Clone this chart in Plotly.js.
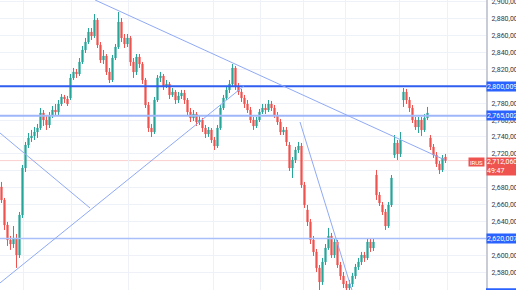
<!DOCTYPE html>
<html>
<head>
<meta charset="utf-8">
<script src="https://cdn.plot.ly/plotly-3.0.1.min.js"></script>
<style>
html,body{margin:0;padding:0;background:#fff;}
#chart{width:516px;height:290px;}
</style>
</head>
<body>
<div id="chart"></div>
<script>
// Prices in thousands
const openK = [2680.9,2665.5,2635.9,2618.2,2613.4,2620.5,2600.4,2647.7,2703.3,2730.5,
2738.8,2741.2,2745.9,2750.6,2768.4,2760.1,2754.2,2764.8,2771.9,2769.5,
2779.0,2787.3,2784.9,2786.1,2809.8,2816.9,2814.5,2828.7,2842.9,2852.3,
2864.2,2859.4,2878.3,2848.8,2831.0,2835.8,2816.9,2807.4,2833.4,2846.4,
2876.0,2857.1,2850.0,2857.1,2828.7,2816.9,2834.6,2826.3,2807.4,2777.8,
2750.6,2745.9,2783.7,2809.8,2812.1,2800.3,2802.7,2789.7,2793.2,2783.7,
2788.5,2792.0,2783.7,2769.5,2762.5,2767.2,2757.7,2760.1,2750.6,2743.5,
2748.3,2736.4,2729.3,2750.6,2774.3,2786.1,2795.6,2802.7,2821.6,2800.3,
2793.2,2786.1,2779.0,2771.9,2760.1,2753.0,2760.1,2769.5,2774.3,2771.9,
2779.0,2774.3,2766.0,2757.7,2745.9,2748.3,2730.5,2703.3,2712.8,2724.6,
2729.3,2683.2,2653.7,2639.5,2618.2,2604.0,2585.1,2568.5,2592.2,2608.7,
2622.9,2600.4,2615.8,2588.6,2575.6,2566.1,2561.4,2566.1,2575.6,2586.2,
2592.2,2600.4,2596.9,2615.8,2608.7,2695.0,2671.4,2659.6,2651.3,2634.7,
2659.6,2718.7,2732.9,2719.9,2783.7,2793.2,2783.7,2774.3,2760.1,2751.8,
2760.1,2748.3,2762.5,2738.8,2728.2,2718.7,2708.1,2701.0,2716.3];

const closeK = [2665.5,2635.9,2618.2,2613.4,2620.5,2600.4,2647.7,2703.3,2730.5,2738.8,
2741.2,2745.9,2750.6,2768.4,2760.1,2754.2,2764.8,2771.9,2769.5,2779.0,
2787.3,2784.9,2779.0,2809.8,2816.9,2814.5,2828.7,2842.9,2852.3,2864.2,
2859.4,2878.3,2848.8,2831.0,2835.8,2816.9,2807.4,2833.4,2846.4,2876.0,
2857.1,2850.0,2857.1,2828.7,2816.9,2834.6,2826.3,2807.4,2777.8,2750.6,
2745.9,2783.7,2809.8,2812.1,2800.3,2802.7,2789.7,2793.2,2783.7,2788.5,
2792.0,2783.7,2769.5,2762.5,2767.2,2757.7,2760.1,2750.6,2743.5,2748.3,
2736.4,2729.3,2750.6,2774.3,2786.1,2795.6,2802.7,2821.6,2800.3,2793.2,
2786.1,2779.0,2771.9,2760.1,2753.0,2760.1,2769.5,2774.3,2771.9,2779.0,
2774.3,2766.0,2757.7,2745.9,2748.3,2734.1,2703.3,2712.8,2724.6,2729.3,
2683.2,2659.6,2639.5,2618.2,2604.0,2585.1,2568.5,2592.2,2608.7,2622.9,
2600.4,2615.8,2588.6,2575.6,2566.1,2561.4,2566.1,2575.6,2586.2,2592.2,
2600.4,2596.9,2615.8,2608.7,2615.8,2671.4,2661.9,2651.3,2634.7,2659.6,
2691.5,2732.9,2719.9,2736.4,2793.2,2783.7,2774.3,2760.1,2751.8,2760.1,
2748.3,2762.5,2768.4,2728.2,2718.7,2708.1,2701.0,2715.2,2712.06];

const highK = [2686.8,2667.9,2639.5,2622.9,2634.7,2625.3,2651.3,2706.9,2734.1,2744.7,
2748.3,2751.8,2755.4,2774.3,2771.9,2764.8,2769.5,2776.6,2779.0,2783.7,
2790.8,2789.7,2788.5,2814.5,2821.6,2820.4,2833.4,2847.6,2857.1,2868.9,
2868.9,2885.4,2880.7,2852.3,2842.9,2838.1,2821.6,2837.0,2850.0,2887.8,
2880.7,2861.8,2861.8,2859.4,2833.4,2838.1,2838.1,2828.7,2809.8,2781.4,
2755.4,2787.3,2813.3,2816.9,2814.5,2807.4,2805.0,2797.9,2795.6,2793.2,
2795.6,2795.6,2786.1,2774.3,2771.9,2769.5,2764.8,2762.5,2754.2,2751.8,
2750.6,2740.0,2754.2,2777.8,2789.7,2800.3,2807.4,2826.3,2824.0,2803.8,
2796.8,2789.7,2783.7,2775.5,2763.6,2763.6,2773.1,2779.0,2779.0,2783.7,
2782.6,2777.8,2769.5,2761.3,2751.8,2751.8,2734.1,2716.3,2728.2,2734.1,
2732.9,2686.8,2659.6,2643.0,2622.9,2607.5,2588.6,2596.9,2613.4,2632.4,
2626.5,2620.5,2618.2,2592.2,2580.3,2569.7,2570.9,2579.2,2589.8,2596.9,
2604.0,2604.0,2620.5,2619.4,2619.4,2701.0,2674.9,2663.1,2654.8,2663.1,
2695.0,2742.3,2736.4,2745.9,2797.9,2796.8,2787.3,2777.8,2763.6,2763.6,
2763.6,2767.2,2775.5,2742.3,2731.7,2722.2,2711.6,2718.7,2719.9];

const lowK = [2661.9,2630.0,2611.1,2606.4,2608.7,2585.1,2596.9,2644.2,2698.6,2727.0,
2734.1,2736.4,2738.8,2748.3,2753.0,2748.3,2750.6,2762.5,2764.8,2766.0,
2776.6,2780.2,2776.6,2783.7,2807.4,2809.8,2812.1,2826.3,2839.3,2850.0,
2854.7,2857.1,2845.2,2827.5,2826.3,2813.3,2803.8,2805.0,2831.0,2844.1,
2852.3,2845.2,2846.4,2824.0,2809.8,2813.3,2821.6,2802.7,2774.3,2745.9,
2740.0,2743.5,2781.4,2805.0,2795.6,2797.9,2784.9,2787.3,2779.0,2780.2,
2784.9,2779.0,2764.8,2757.7,2758.9,2753.0,2754.2,2745.9,2738.8,2740.0,
2732.9,2724.6,2727.0,2748.3,2771.9,2783.7,2792.0,2800.3,2795.6,2789.7,
2781.4,2774.3,2768.4,2756.5,2748.3,2750.6,2757.7,2767.2,2767.2,2769.5,
2770.7,2762.5,2754.2,2742.3,2742.3,2729.3,2699.8,2691.5,2709.2,2721.1,
2679.7,2656.0,2634.7,2613.4,2599.3,2580.3,2559.0,2565.0,2588.6,2606.4,
2596.9,2596.9,2585.1,2570.9,2561.4,2556.7,2557.9,2562.6,2572.1,2582.7,
2588.6,2592.2,2594.5,2604.0,2605.2,2665.5,2658.4,2647.7,2630.0,2632.4,
2657.2,2715.2,2712.8,2716.3,2775.5,2779.0,2769.5,2756.5,2748.3,2744.7,
2741.2,2745.9,2760.1,2724.6,2715.2,2704.5,2696.2,2698.6,2709.2];

// Axis ticks
const tickPrices = [2580,2600,2620,2640,2660,2680,2700,2720,2740,2760,2780,2800,2820,2840,2860,2880,2900];
const tickLabels = ["2,580,000","2,600,000","2,620,000","2,640,000","2,660,000","2,680,000","2,700,000","2,720,000","2,740,000","2,760,000","2,780,000","2,800,000","2,820,000","2,840,000","2,860,000","2,880,000","2,900,000"];
const gridBars = [7.2,23.2,42.2,70.5,86.2,100.8,114.5,132.8,148.8];

// Horizontal levels
const levelPrices = [2800.009, 2765.002, 2620.007];
const levelLabels = ["2,800,009", "2,765,002", "2,620,007"];
const levelColors = ["#2f5ef0", "#9fb6f8", "#a9bff9"];
const levelWidths = [2, 2, 1.5];

// Trend lines (bar index, price K)
const trendX0 = [31.2, -0.5, -0.5, 99.5];
const trendY0 = [2902.0, 2567.3, 2744.7, 2757.7];
const trendX1 = [147.8, 80.8, 29.5, 116.8];
const trendY1 = [2712.8, 2800.3, 2656.0, 2559.0];

const lastPrice = 2712.06;
const lastLabel = "2,712,060";
const countdown = "49:47";
const symbolTag = "IRUS";

const barIndex = openK.map((_, i) => i);

const up = "#26a69a", down = "#ef5350";

const trace = {
  type: "candlestick",
  x: barIndex, open: openK, high: highK, low: lowK, close: closeK,
  increasing: {line: {color: up, width: 1}, fillcolor: up},
  decreasing: {line: {color: down, width: 1}, fillcolor: down},
  whiskerwidth: 0,
  hoverinfo: "skip",
  showlegend: false
};

const shapes = [];
shapes.push({type: "line", xref: "paper", x0: 0, x1: 1, yref: "y", y0: lastPrice, y1: lastPrice,
  line: {color: "rgba(239,83,80,0.28)", width: 1}, layer: "below"});
levelPrices.forEach((p, i) => {
  shapes.push({type: "line", xref: "paper", x0: 0, x1: 1, yref: "y", y0: p, y1: p,
    line: {color: levelColors[i], width: levelWidths[i]}, layer: "above"});
});
trendX0.forEach((x0, i) => {
  shapes.push({type: "line", xref: "x", yref: "y", x0: x0, y0: trendY0[i], x1: trendX1[i], y1: trendY1[i],
    line: {color: "#8fa9f6", width: 1}, layer: "above"});
});
// partially visible axis label box at the very bottom edge
shapes.push({type: "rect", xref: "paper", x0: 1, x1: 1.07, yref: "paper", y0: -0.02, y1: 0.006,
  fillcolor: "#2962ff", line: {width: 0}, layer: "above"});

const annotations = [];
levelPrices.forEach((p, i) => {
  annotations.push({xref: "paper", x: 1, xanchor: "left", yref: "y", y: p, yanchor: "middle",
    text: levelLabels[i], showarrow: false, bgcolor: "#2962ff", width: 30, height: 9, align: "left",
    borderpad: 0, font: {family: "Roboto, sans-serif", size: 7, color: "#ffffff"}});
});
annotations.push({xref: "paper", x: 1, xanchor: "left", yref: "y", y: lastPrice, yanchor: "top", yshift: 4,
  text: lastLabel + "<br>" + countdown, showarrow: false, bgcolor: down, width: 30, height: 17, align: "left",
  borderpad: 0, font: {family: "Roboto, sans-serif", size: 7, color: "#ffffff"}});
annotations.push({xref: "paper", x: 1, xanchor: "right", xshift: -1, yref: "y", y: lastPrice, yanchor: "top", yshift: 4,
  text: symbolTag, showarrow: false, bgcolor: down, width: 15, height: 8, align: "center",
  borderpad: 0, font: {family: "Roboto, sans-serif", size: 6, color: "#ffffff"}});

const layout = {
  width: 516, height: 290,
  margin: {l: 0, r: 30, t: 0, b: 0, pad: 0},
  paper_bgcolor: "#ffffff", plot_bgcolor: "#ffffff",
  boxgap: 0.45,
  showlegend: false,
  xaxis: {range: [-0.5, 161.5], rangeslider: {visible: false}, showticklabels: false,
    tickmode: "array", tickvals: gridBars, showgrid: true, gridcolor: "#eef2f8", gridwidth: 1,
    zeroline: false, showline: false, ticks: "", fixedrange: true},
  yaxis: {side: "right", range: [2559.0, 2902.0], tickmode: "array", tickvals: tickPrices, ticktext: tickLabels,
    showgrid: true, gridcolor: "#eef2f8", gridwidth: 1, zeroline: false,
    showline: true, linecolor: "#c9ccd4", linewidth: 2, ticks: "", ticklabelstandoff: 2,
    ticklabeloverflow: "allow",
    tickfont: {family: "Roboto, sans-serif", size: 7, color: "#333a45"}, fixedrange: true},
  shapes: shapes,
  annotations: annotations
};

Plotly.newPlot("chart", [trace], layout, {staticPlot: true, displayModeBar: false});
</script>
</body>
</html>
